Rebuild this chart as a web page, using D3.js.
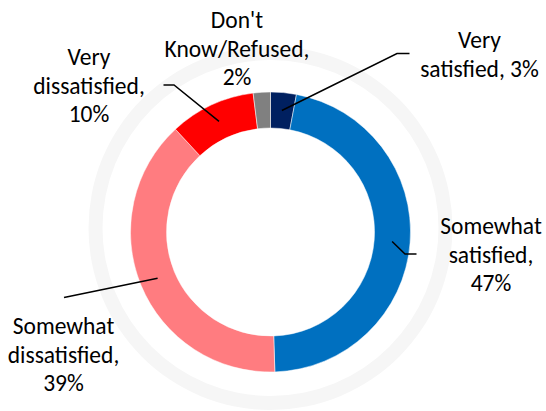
<!DOCTYPE html>
<html>
<head>
<meta charset="utf-8">
<script src="https://cdn.jsdelivr.net/npm/d3@7"></script>
<style>
  html, body { margin: 0; padding: 0; background: #fff; }
  svg { display: block; }
  text { font-family: Carlito, Calibri, Lato, "Noto Sans", sans-serif; fill: #000; }
</style>
</head>
<body>
<svg id="chart" width="546" height="411"></svg>
<script>
// ---- data ----
const categories = ["Very satisfied", "Somewhat satisfied", "Somewhat dissatisfied", "Very dissatisfied", "Don't Know/Refused"];
const values = [3, 47, 39, 10, 2];
const labelLines = [
  ["Very", "satisfied, 3%"],
  ["Somewhat", "satisfied,", "47%"],
  ["Somewhat", "dissatisfied,", "39%"],
  ["Very", "dissatisfied,", "10%"],
  ["Don't", "Know/Refused,", "2%"]
];
const colors = ["#002060", "#0070C0", "#FF7C80", "#FF0000", "#808080"];

// ---- layout ----
const cx = 270.5, cy = 232, rOuter = 140, rInner = 104;
const fontSize = 23.5, lineGap = 28.5;
const layout = [
  { x: 479.5, y: 48,  leader: [[397, 53.5], [409.5, 53.5]] },
  { x: 491,   y: 234, leader: [[405, 254], [416.5, 254]] },
  { x: 63.5,  y: 334, leader: [[64, 297.5]] },
  { x: 89,    y: 65,  leader: [[174, 85], [163.5, 85]] },
  { x: 237,   y: 28.3, leader: null }
];

const svg = d3.select("#chart");

// faint background ring
svg.append("path")
  .attr("transform", `translate(${cx},${cy - 4})`)
  .attr("d", d3.arc().innerRadius(168).outerRadius(182).startAngle(0).endAngle(2 * Math.PI)())
  .attr("fill", "#F6F6F6");

const pie = d3.pie().sort(null).value(d => d)(values);
const arc = d3.arc().innerRadius(rInner).outerRadius(rOuter);
const mid = d3.arc().innerRadius((rInner + rOuter) / 2).outerRadius((rInner + rOuter) / 2);

const g = svg.append("g").attr("transform", `translate(${cx},${cy})`);
g.selectAll("path.slice")
  .data(pie)
  .join("path")
  .attr("class", "slice")
  .attr("d", arc)
  .attr("fill", (d, i) => colors[i])
  .attr("stroke", "#fff")
  .attr("stroke-width", 0.5);

// leader lines
pie.forEach((d, i) => {
  const L = layout[i];
  if (!L.leader) return;
  const c = mid.centroid(d);
  const pts = [[cx + c[0], cy + c[1]], ...L.leader];
  svg.append("path")
    .attr("d", d3.line()(pts))
    .attr("fill", "none")
    .attr("stroke", "#000")
    .attr("stroke-width", 1.5);
});

// labels
labelLines.forEach((lines, i) => {
  const L = layout[i];
  const t = svg.append("text")
    .attr("text-anchor", "middle")
    .attr("font-size", fontSize);
  lines.forEach((s, j) => {
    t.append("tspan").attr("x", L.x).attr("y", L.y + j * lineGap).text(s);
  });
});
</script>
</body>
</html>
